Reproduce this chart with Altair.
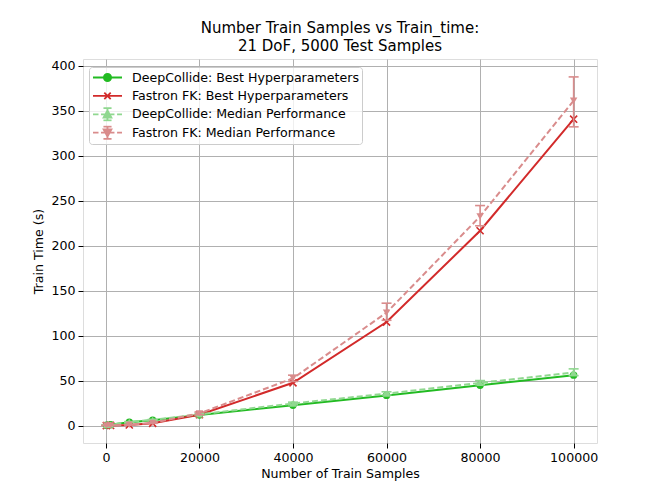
import altair as alt
import pandas as pd

# ---------------- data ----------------
x_samples = [100, 1000, 5000, 10000, 20000, 40000, 60000, 80000, 100000]
dc_best = [0.4, 0.8, 3.6, 5.8, 11.8, 22.5, 33.5, 44.8, 56.0]
fk_best = [0.0, 0.1, 0.6, 2.5, 12.0, 47.5, 115.0, 216.5, 340.5]
dc_med = [0.5, 1.0, 4.0, 6.2, 12.5, 24.5, 35.5, 47.5, 59.0]
dc_lo = [0.4, 0.8, 3.6, 5.8, 11.8, 23.0, 34.0, 45.5, 55.5]
dc_hi = [0.6, 1.2, 4.4, 6.8, 13.5, 26.0, 37.5, 50.0, 63.0]
fk_med = [0.1, 0.2, 0.9, 3.0, 13.5, 52.5, 125.5, 232.5, 361.0]
fk_lo = [0.0, 0.1, 0.6, 2.5, 12.0, 49.0, 117.0, 222.0, 332.0]
fk_hi = [0.2, 0.4, 1.3, 3.6, 15.0, 56.0, 136.0, 244.5, 387.5]

series_names = [
    "DeepCollide: Best Hyperparameters",
    "Fastron FK: Best Hyperparameters",
    "DeepCollide: Median Performance",
    "Fastron FK: Median Performance",
]
series_colors = ["#22bb22", "#d22a2a", "#90d890", "#d98c8c"]

x_ticks = [0, 20000, 40000, 60000, 80000, 100000]
y_ticks = [0, 50, 100, 150, 200, 250, 300, 350, 400]

rows = []
for name, ys, los, his in [
    (series_names[0], dc_best, dc_best, dc_best),
    (series_names[1], fk_best, fk_best, fk_best),
    (series_names[2], dc_med, dc_lo, dc_hi),
    (series_names[3], fk_med, fk_lo, fk_hi),
]:
    for xv, yv, lo, hi in zip(x_samples, ys, los, his):
        rows.append({"x": xv, "y": yv, "lo": lo, "hi": hi, "series": name})
df = pd.DataFrame(rows)

FONT = "DejaVu Sans"
FS = 12.6

x_scale = alt.Scale(domain=[-4895, 104995], nice=False, zero=False)
y_scale = alt.Scale(domain=[-19.4, 407.4], nice=False, zero=False)

x_enc = alt.X(
    "x:Q",
    scale=x_scale,
    axis=alt.Axis(
        values=x_ticks, format="d", title="Number of Train Samples",
        grid=True, gridColor="#b0b0b0", gridWidth=1,
        domain=False, ticks=True, tickColor="black", tickSize=5, tickWidth=1,
        labelFont=FONT, labelFontSize=FS, labelColor="black", labelPadding=3,
        titleFont=FONT, titleFontSize=FS, titleFontWeight="normal",
        titleColor="black", titlePadding=4, labelFlush=False,
    ),
)
y_axis = alt.Axis(
    values=y_ticks, title="Train Time (s)",
    grid=True, gridColor="#b0b0b0", gridWidth=1,
    domain=False, ticks=True, tickColor="black", tickSize=5, tickWidth=1,
    labelFont=FONT, labelFontSize=FS, labelColor="black", labelPadding=3,
    titleFont=FONT, titleFontSize=FS, titleFontWeight="normal",
    titleColor="black", titlePadding=5, labelFlush=False,
)

base = alt.Chart(df)


def sel(name):
    return base.transform_filter(alt.datum.series == name)


layers = []
# best lines + markers
layers.append(sel(series_names[0]).mark_line(color=series_colors[0], strokeWidth=2)
              .encode(x=x_enc, y=alt.Y("y:Q", scale=y_scale, axis=y_axis)))
layers.append(sel(series_names[0]).mark_point(shape="circle", filled=True, opacity=1,
                                             color=series_colors[0], size=55)
              .encode(x="x:Q", y="y:Q"))
layers.append(sel(series_names[1]).mark_line(color=series_colors[1], strokeWidth=2)
              .encode(x="x:Q", y="y:Q"))
layers.append(sel(series_names[1]).mark_point(shape="M-1,-1L1,1M-1,1L1,-1", filled=False,
                                             opacity=1, color=series_colors[1], size=50,
                                             strokeWidth=1.6)
              .encode(x="x:Q", y="y:Q"))
# median series with error bars
for idx, shp in [(2, "triangle-up"), (3, "triangle-down")]:
    nm = series_names[idx]
    col = series_colors[idx]
    layers.append(sel(nm).mark_rule(color=col, strokeWidth=1.6)
                  .encode(x="x:Q", y="lo:Q", y2="hi:Q"))
    layers.append(sel(nm).mark_tick(orient="horizontal", color=col, size=10,
                                    thickness=1.6, opacity=1)
                  .encode(x="x:Q", y="lo:Q"))
    layers.append(sel(nm).mark_tick(orient="horizontal", color=col, size=10,
                                    thickness=1.6, opacity=1)
                  .encode(x="x:Q", y="hi:Q"))
    layers.append(sel(nm).mark_line(color=col, strokeWidth=2, strokeDash=[6, 3])
                  .encode(x="x:Q", y="y:Q"))
    layers.append(sel(nm).mark_point(shape=shp, filled=True, opacity=1, color=col, size=55)
                  .encode(x="x:Q", y="y:Q"))

# legend-only layer (no data drawn) with line+marker symbols
legend_paths = [
    "M-1,0H1M-0.25,0A0.25,0.25,0,1,1,0.25,0A0.25,0.25,0,1,1,-0.25,0Z",
    "M-1,0H1M-0.22,-0.22L0.22,0.22M-0.22,0.22L0.22,-0.22",
    "M-1,0H-0.62M-0.45,0H-0.07M0.1,0H0.48M0.66,0H1"
    "M0,-0.42V0.42M-0.28,-0.42H0.28M-0.28,0.42H0.28M0,-0.27L0.27,0.22L-0.27,0.22Z",
    "M-1,0H-0.62M-0.45,0H-0.07M0.1,0H0.48M0.66,0H1"
    "M0,-0.42V0.42M-0.28,-0.42H0.28M-0.28,0.42H0.28M0,0.27L0.27,-0.22L-0.27,-0.22Z",
]
leg = alt.Legend(
    title=None, orient="none", legendX=6, legendY=8, padding=3,
    fillColor="rgba(255,255,255,0.8)", strokeColor="#cccccc", cornerRadius=3,
    symbolSize=841, symbolStrokeWidth=1.8, clipHeight=15, rowPadding=3.4,
    labelOffset=9, labelFont=FONT, labelFontSize=FS, labelColor="black",
    labelLimit=400, symbolOpacity=1,
)
layers.append(
    base.transform_filter("false").mark_point(opacity=1, strokeWidth=1.8).encode(
        x="x:Q", y="y:Q",
        shape=alt.Shape("series:N", scale=alt.Scale(domain=series_names, range=legend_paths), legend=leg),
        fill=alt.Fill("series:N", scale=alt.Scale(domain=series_names, range=series_colors), legend=leg),
        stroke=alt.Stroke("series:N", scale=alt.Scale(domain=series_names, range=series_colors), legend=leg),
    )
)

chart = alt.layer(*layers).properties(
    width=514,
    height=384,
    title=alt.TitleParams(
        text=["Number Train Samples vs Train_time:", "21 DoF, 5000 Test Samples"],
        font=FONT, fontSize=15, fontWeight="normal", color="black",
        anchor="middle", frame="group", offset=5, lineHeight=18,
    ),
    autosize=alt.AutoSizeParams(type="none"),
    padding={"left": 75, "top": 51, "right": 50, "bottom": 40},
).configure_view(stroke="black", strokeWidth=1.2).configure(background="white")

chart.save("out.html", embed_options={"renderer": "svg", "actions": False})
